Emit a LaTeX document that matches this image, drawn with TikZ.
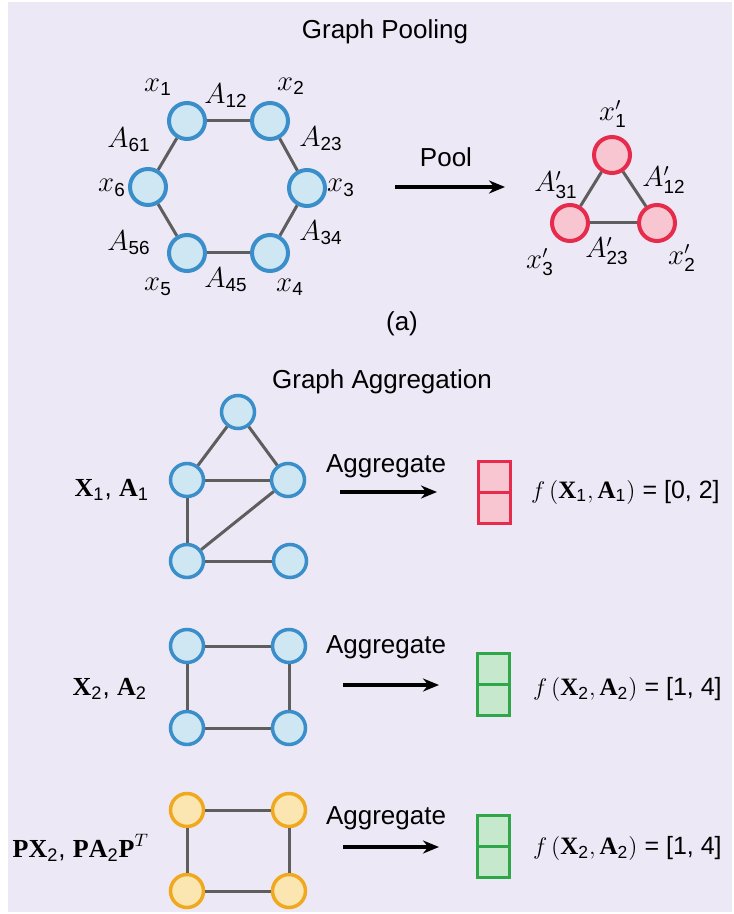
\documentclass[tikz,border=0pt]{standalone}
\usepackage{amsmath}
\usepackage{fontspec}
\setmainfont{Liberation Sans}
\newfontfamily\serifbf{Liberation Serif}
\usetikzlibrary{positioning, arrows.meta}
\definecolor{bgpanel}{HTML}{ECE8F5}
\definecolor{blueline}{HTML}{3A8FCB}
\definecolor{bluefill}{HTML}{CFE6F3}
\definecolor{redline}{HTML}{E62B4C}
\definecolor{redfill}{HTML}{F7C6D1}
\definecolor{greenline}{HTML}{2FA64A}
\definecolor{greenfill}{HTML}{C6E8CD}
\definecolor{yellowline}{HTML}{F0A91E}
\definecolor{yellowfill}{HTML}{FBE6B2}
\definecolor{edgegray}{HTML}{5E5E5E}
\newcommand{\mX}{\mbox{\serifbf\bfseries X}}
\newcommand{\mA}{\mbox{\serifbf\bfseries A}}
\newcommand{\mP}{\mbox{\serifbf\bfseries P}}
\newcommand{\ssub}[1]{_{\textrm{#1}}}
\begin{document}
\begin{tikzpicture}[x=0.5pt, y=-0.5pt, >={Stealth[length=8pt, width=6.5pt]},
  every node/.style={font=\fontsize{13}{15.6}\selectfont},
  bigvtx/.style={circle, inner sep=0pt, minimum size=18pt, line width=2pt},
  smallvtx/.style={circle, inner sep=0pt, minimum size=16.5pt, line width=1.75pt},
  poolnode/.style={bigvtx, draw=blueline, fill=bluefill},
  coarsenode/.style={bigvtx, draw=redline, fill=redfill},
  bluenode/.style={smallvtx, draw=blueline, fill=bluefill},
  yellownode/.style={smallvtx, draw=yellowline, fill=yellowfill},
  link/.style={draw=edgegray, line width=1.5pt},
  flow/.style={->, line width=1.6pt},
  xlab/.style={font=\fontsize{13.5}{16}\selectfont},
  alab/.style={font=\fontsize{13.5}{16}\selectfont},
  inlab/.style={font=\fontsize{13}{16}\selectfont, anchor=east},
  outlab/.style={font=\fontsize{12.5}{15}\selectfont, anchor=west},
  cell/.style={rectangle, inner sep=0pt, outer sep=0pt, minimum width=16pt,
    minimum height=15.5pt, line width=1.5pt},
  redcell/.style={cell, draw=redline, fill=redfill},
  greencell/.style={cell, draw=greenline, fill=greenfill}]
\useasboundingbox (0,0) rectangle (733,914);
\fill[white] (0,0) rectangle (733,914);
\fill[bgpanel] (8,2) rectangle (732,912);

% (a) graph pooling
\node (poolTitle) at (385,32) {Graph Pooling};
\foreach \n/\px/\py in {1/187/121, 2/270/121, 3/307/188, 4/270/253, 5/187/253, 6/148/187}
  \node[poolnode] (x\n) at (\px,\py) {};
\foreach \a/\b in {1/2, 2/3, 3/4, 4/5, 5/6, 6/1}
  \draw[link] (x\a) -- (x\b);
\node[xlab] (lx1) at (158,87) {$x\ssub{1}$};
\node[xlab] (lx2) at (291,86) {$x\ssub{2}$};
\node[xlab] (lx3) at (341,188) {$x\ssub{3}$};
\node[xlab] (lx4) at (290,287) {$x\ssub{4}$};
\node[xlab] (lx5) at (158,287) {$x\ssub{5}$};
\node[xlab] (lx6) at (112,188) {$x\ssub{6}$};
\node[alab] (la12) at (226,96) {$A\ssub{12}$};
\node[alab] (la23) at (321,139) {$A\ssub{23}$};
\node[alab] (la34) at (321,233) {$A\ssub{34}$};
\node[alab] (la45) at (226,280) {$A\ssub{45}$};
\node[alab] (la56) at (129,243) {$A\ssub{56}$};
\node[alab] (la61) at (129,140) {$A\ssub{61}$};

\coordinate (poolStart) at (395,187);
\coordinate (poolEnd) at (505,187);
\draw[flow] (poolStart) -- (poolEnd);
\node (poolLabel) at (446,157) {Pool};

\node[coarsenode] (p1) at (612,155) {};
\node[coarsenode] (p2) at (657,223) {};
\node[coarsenode] (p3) at (570,223) {};
\draw[link] (p1) -- (p2);
\draw[link] (p2) -- (p3);
\draw[link] (p3) -- (p1);
\node[xlab] (lp1) at (613,114) {$x'\ssub{1}$};
\node[xlab] (lp2) at (682,258) {$x'\ssub{2}$};
\node[xlab] (lp3) at (540,262) {$x'\ssub{3}$};
\node[alab] (lb12) at (664,180) {$A'\ssub{12}$};
\node[alab] (lb23) at (607,251) {$A'\ssub{23}$};
\node[alab] (lb31) at (556,185) {$A'\ssub{31}$};
\node (tagA) at (402,324) {(a)};

% graph aggregation
\node (aggTitle) at (382,382) {Graph Aggregation};

% first graph
\node[bluenode] (g1t) at (238,412) {};
\node[bluenode] (g1l) at (187,480) {};
\node[bluenode] (g1r) at (288,480) {};
\node[bluenode] (g1bl) at (187,561) {};
\node[bluenode] (g1br) at (290,561) {};
\foreach \a/\b in {g1t/g1l, g1t/g1r, g1l/g1r, g1l/g1bl, g1r/g1bl, g1bl/g1br}
  \draw[link] (\a) -- (\b);
\node[inlab] (in1) at (156,490) {$\mX\ssub{1}$, $\mA\ssub{1}$};
\coordinate (agg1s) at (340,492);
\coordinate (agg1e) at (437,492);
\draw[flow] (agg1s) -- (agg1e);
\node (agg1) at (386,466) {Aggregate};
\node[redcell] (r1a) at (494,477) {};
\node[redcell, below=0pt of r1a] (r1b) {};
\node[outlab] (out1) at (524,492) {$f\,(\mX\ssub{1}, \mA\ssub{1})$ = [0, 2]};

% second graph
\node[bluenode] (g2tl) at (187,646) {};
\node[bluenode] (g2tr) at (289,646) {};
\node[bluenode] (g2bl) at (187,728) {};
\node[bluenode] (g2br) at (289,728) {};
\foreach \a/\b in {g2tl/g2tr, g2tr/g2br, g2br/g2bl, g2bl/g2tl}
  \draw[link] (\a) -- (\b);
\node[inlab] (in2) at (154,689) {$\mX\ssub{2}$, $\mA\ssub{2}$};
\coordinate (agg2s) at (343,685);
\coordinate (agg2e) at (439,685);
\draw[flow] (agg2s) -- (agg2e);
\node (agg2) at (386,647) {Aggregate};
\node[greencell] (r2a) at (493,669) {};
\node[greencell, below=0pt of r2a] (r2b) {};
\node[outlab] (out2) at (526,689) {$f\,(\mX\ssub{2}, \mA\ssub{2})$ = [1, 4]};

% third graph
\node[yellownode] (g3tl) at (187,810) {};
\node[yellownode] (g3tr) at (289,810) {};
\node[yellownode] (g3bl) at (187,891) {};
\node[yellownode] (g3br) at (289,891) {};
\foreach \a/\b in {g3tl/g3tr, g3tr/g3br, g3br/g3bl, g3bl/g3tl}
  \draw[link] (\a) -- (\b);
\node[inlab] (in3) at (156,848) {$\mP\mX\ssub{2}$, $\mP\mA\ssub{2}\mP^T$};
\coordinate (agg3s) at (343,847);
\coordinate (agg3e) at (439,847);
\draw[flow] (agg3s) -- (agg3e);
\node (agg3) at (386,818) {Aggregate};
\node[greencell] (r3a) at (493,831) {};
\node[greencell, below=0pt of r3a] (r3b) {};
\node[outlab] (out3) at (526,848) {$f\,(\mX\ssub{2}, \mA\ssub{2})$ = [1, 4]};
\end{tikzpicture}
\end{document}
